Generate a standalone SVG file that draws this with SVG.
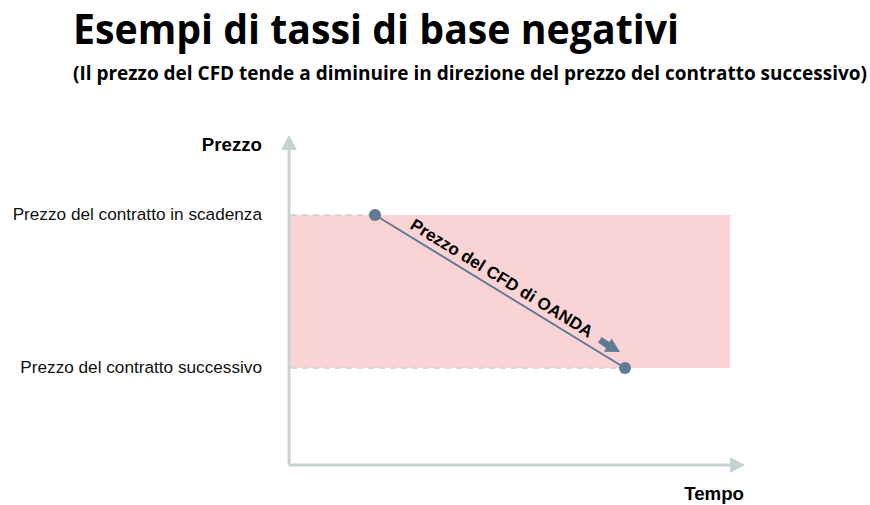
<svg xmlns="http://www.w3.org/2000/svg" width="870" height="505" viewBox="0 0 870 505">
<style>
.title{font-family:"Open Sans","Liberation Sans",sans-serif;font-weight:700;fill:#000}
.lbl{font-family:"Liberation Sans",Arial,sans-serif;font-size:17.2px;fill:#111}
.bold{font-family:"Liberation Sans",Arial,sans-serif;font-weight:700;font-size:18.7px;fill:#000}
.axis{stroke:#c6d1d4;stroke-width:3;fill:none}
.dash{stroke:#c6d1d4;stroke-width:1.5;stroke-dasharray:6 5;fill:none}
.dot{fill:#5f7a93}
</style>
<rect width="870" height="505" fill="#fff"/>
<g id="title">
<text class="title" x="73" y="44" font-size="42" textLength="606" lengthAdjust="spacingAndGlyphs">Esempi di tassi di base negativi</text>
<text class="title" x="73" y="80" font-size="19" font-weight="600" textLength="794" lengthAdjust="spacingAndGlyphs">(Il prezzo del CFD tende a diminuire in direzione del prezzo del contratto successivo)</text>
</g>
<g id="band">
<rect x="290" y="215" width="440" height="153" fill="#fad4d4"/>
</g>
<g id="axes">
<line class="axis" x1="289" y1="148" x2="289" y2="465"/>
<polygon points="289,135 281,150 297,150" fill="#c6d1d4"/>
<line class="axis" x1="289" y1="465" x2="732" y2="465"/>
<polygon points="745,465 730,457 730,473" fill="#c6d1d4"/>
<text class="bold" x="262" y="151" text-anchor="end">Prezzo</text>
<text class="bold" x="744" y="500" text-anchor="end">Tempo</text>
</g>
<g id="levels">
<line class="dash" x1="291" y1="215" x2="372" y2="215"/>
<line class="dash" x1="291" y1="368" x2="622" y2="368"/>
<text class="lbl" x="262" y="220" text-anchor="end">Prezzo del contratto in scadenza</text>
<text class="lbl" x="262" y="373" text-anchor="end">Prezzo del contratto successivo</text>
</g>
<g id="connectors">
<line x1="375" y1="215" x2="625" y2="368" stroke="#5f7a93" stroke-width="2"/>
<polygon points="598,342.5 601.5,337 609.5,341.9 611.6,338.4 620,352 604,351.8 606.1,348.3" fill="#5f7a93"/>
</g>
<g id="start"><circle class="dot" cx="375" cy="215" r="6"/></g>
<g id="end"><circle class="dot" cx="625" cy="368" r="6"/></g>
<g id="cfd-label">
<text transform="translate(409,228) rotate(31.5)" font-family="Liberation Sans,Arial,sans-serif" font-weight="700" font-size="17" fill="#000">Prezzo del CFD di OANDA</text>
</g>
</svg>
